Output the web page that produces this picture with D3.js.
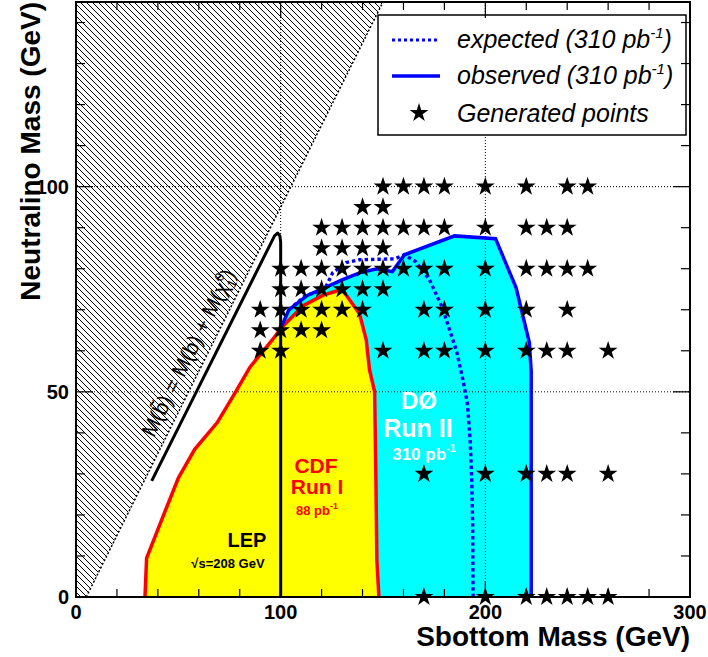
<!DOCTYPE html>
<html lang="en">
<head>
  <meta charset="UTF-8">
  <title>Sbottom exclusion</title>
  <script src="https://cdn.jsdelivr.net/npm/d3@7"></script>
  <style>
    body { margin: 0; background: #fff; }
    text { font-family: "Liberation Sans", Arial, sans-serif; }
  </style>
</head>
<body>
  <svg width="708" height="657"></svg>
  <script>
    // limit contours (sbottom mass, neutralino mass)
    var cdfRun1 = [[33.7,0],[34.5,9.5],[42,19],[50,29],[58,36],[69,42.5],[78,50],[85,56],[96,62.7],
      [100.3,65.6],[111,71],[120.5,73.5],[130,75],[138.5,69],[141.8,62.7],[143.4,55.4],[145.9,50],
      [146.5,30],[147,9],[148,0]];
    var observed = [[100.5,66],[104,70],[113,73.5],[122.5,75.6],[130,77.3],[138.5,79],[147,80],
      [154.6,79.3],[160.5,83.4],[185,88],[205,87.3],[215,75.4],[221.5,62],[222.4,55],[222.4,0]];
    var expected = [[104,70],[112,73.4],[121.5,75],[125.4,79],[132,81.5],[138.5,82.2],[155.6,82.4],
      [160.5,83.4],[166,81.7],[172.7,77.3],[179,70.5],[186,59.8],[189,53],[191.2,47.3],[192.6,38],
      [193.4,28],[193.8,18],[194,0]];
    var lepLimit = [[37,28.3],[97,88],[98.5,88.7],[99.6,88],[100,86.5],[100,0]];
    var kinematic = [[5,0],[150,145]];

    var generatedPoints = [
      [150,100],[160,100],[170,100],[180,100],[200,100],[220,100],[240,100],[250,100],
      [140,95],[150,95],
      [120,90],[130,90],[140,90],[150,90],[160,90],[170,90],[180,90],[200,90],[220,90],[230,90],[240,90],
      [120,85],[130,85],[140,85],[150,85],
      [100,80],[110,80],[120,80],[130,80],[140,80],[150,80],[160,80],[170,80],[180,80],[200,80],[220,80],[230,80],[240,80],[250,80],
      [100,75],[110,75],[120,75],[130,75],[140,75],[150,75],
      [90,70],[100,70],[110,70],[120,70],[130,70],[140,70],[170,70],[180,70],[200,70],[220,70],[240,70],
      [90,65],[100,65],[110,65],[120,65],
      [90,60],[100,60],[150,60],[170,60],[180,60],[200,60],[220,60],[230,60],[240,60],[260,60],
      [170,30],[200,30],[220,30],[230,30],[240,30],[260,30],
      [170,0],[200,0],[220,0],[230,0],[240,0],[250,0],[260,0]
    ];

    var xTicks = [0, 100, 200, 300];
    var yTicks = [0, 50, 100];

    var svg = d3.select('svg');
    var x = d3.scaleLinear().domain([0, 300]).range([76, 690]);
    var y = d3.scaleLinear().domain([0, 145]).range([597, 2]);
    var line = d3.line().x(function(d) { return x(d[0]); }).y(function(d) { return y(d[1]); });

    var defs = svg.append('defs');
    var pat = defs.append('pattern')
      .attr('id', 'hatch')
      .attr('patternUnits', 'userSpaceOnUse')
      .attr('width', 6).attr('height', 6);
    pat.append('path')
      .attr('d', 'M0,0L6,6M-1,5L1,7M5,-1L7,1')
      .attr('stroke', '#000').attr('stroke-width', 1);

    // forbidden region
    svg.append('path')
      .attr('d', line([[0,0],[5,0],[150,145],[0,145]]) + 'Z')
      .attr('fill', 'url(#hatch)');
    svg.append('path')
      .attr('d', line(kinematic))
      .attr('fill', 'none').attr('stroke', '#000')
      .attr('stroke-width', 1.5).attr('stroke-dasharray', '2,2');

    // D0 and CDF areas
    svg.append('path')
      .attr('d', line([[100,0]].concat(observed)) + 'Z')
      .attr('fill', '#00ffff');
    svg.append('path')
      .attr('d', line(cdfRun1) + 'Z')
      .attr('fill', '#ffff00');

    // grid
    var grid = svg.append('g').attr('stroke', '#000').attr('stroke-width', 1)
      .attr('stroke-dasharray', '1,2');
    [100, 200].forEach(function(v) {
      grid.append('line').attr('x1', x(v)).attr('x2', x(v)).attr('y1', y(0)).attr('y2', y(145));
    });
    [50, 100].forEach(function(v) {
      grid.append('line').attr('x1', x(0)).attr('x2', x(300)).attr('y1', y(v)).attr('y2', y(v));
    });

    svg.append('path').attr('d', line(cdfRun1))
      .attr('fill', 'none').attr('stroke', '#ff0000').attr('stroke-width', 3.5);
    svg.append('path').attr('d', line(observed))
      .attr('fill', 'none').attr('stroke', '#0000ff').attr('stroke-width', 3.5);
    svg.append('path').attr('d', line(expected))
      .attr('fill', 'none').attr('stroke', '#0000ff').attr('stroke-width', 3.4)
      .attr('stroke-dasharray', '3.4,3');
    svg.append('path').attr('d', line(lepLimit))
      .attr('fill', 'none').attr('stroke', '#000').attr('stroke-width', 3)
      .attr('stroke-linejoin', 'round');

    // generated points
    var star = d3.symbol().type(d3.symbolStar).size(110);
    svg.append('g').selectAll('path').data(generatedPoints).join('path')
      .attr('d', star)
      .attr('transform', function(d) { return 'translate(' + x(d[0]) + ',' + y(d[1]) + ')'; })
      .attr('fill', '#000');

    // labels in the plot
    function label(tx, ty, size, color, parts) {
      var t = svg.append('text').attr('x', tx).attr('y', ty)
        .attr('text-anchor', 'middle').attr('font-size', size)
        .attr('font-weight', 'bold').attr('fill', color);
      parts.forEach(function(p) {
        var s = t.append('tspan').text(p[0]);
        if (p[1]) s.attr('dy', p[1]).attr('font-size', p[2]);
      });
      return t;
    }
    label(419, 409, 24, '#fff', [['DØ']]);
    label(418, 437, 25, '#fff', [['Run II']]);
    label(424, 460, 17, '#fff', [['310 pb'], ['-1', -8, 11], ['', 8, 17]]);
    label(316, 473, 21, '#ff0000', [['CDF']]);
    label(317, 494, 21, '#ff0000', [['Run I']]);
    label(317, 515, 13, '#ff0000', [['88 pb'], ['-1', -6, 9], ['', 6, 13]]);
    label(247, 547, 20, '#000', [['LEP']]);
    label(228, 568, 13, '#000', [['√s=208 GeV']]);

    var diag = svg.append('text')
      .attr('transform', 'translate(195,356) rotate(-63.4)')
      .attr('text-anchor', 'middle').attr('font-size', 21).attr('fill', '#000');
    diag.append('tspan').text('M(b\u0303) = M(b) + M(\u03c7\u0303');
    diag.append('tspan').text('1').attr('dy', 5).attr('font-size', 13);
    diag.append('tspan').text('0').attr('dy', -14).attr('dx', -7).attr('font-size', 13);
    diag.append('tspan').text(')').attr('dy', 9);

    // legend
    var lg = svg.append('g');
    lg.append('rect').attr('x', 378).attr('y', 15).attr('width', 308).attr('height', 120)
      .attr('fill', '#fff').attr('stroke', '#000').attr('stroke-width', 1.5);
    lg.append('line').attr('x1', 392).attr('x2', 440).attr('y1', 40).attr('y2', 40)
      .attr('stroke', '#0000ff').attr('stroke-width', 3).attr('stroke-dasharray', '3,3');
    lg.append('line').attr('x1', 392).attr('x2', 440).attr('y1', 76).attr('y2', 76)
      .attr('stroke', '#0000ff').attr('stroke-width', 3.5);
    lg.append('path').attr('d', star).attr('transform', 'translate(419,113)');
    var legendText = [['expected (310 pb', 48], ['observed (310 pb', 84]];
    legendText.forEach(function(l) {
      var t = lg.append('text').attr('x', 457).attr('y', l[1])
        .attr('font-size', 25).attr('font-style', 'italic');
      t.append('tspan').text(l[0]);
      t.append('tspan').text('-1').attr('dy', -10).attr('font-size', 15);
      t.append('tspan').text(')').attr('dy', 10);
    });
    lg.append('text').attr('x', 457).attr('y', 122).attr('font-size', 25)
      .attr('font-style', 'italic').text('Generated points');

    // frame and ticks
    svg.append('rect').attr('x', x(0)).attr('y', y(145))
      .attr('width', x(300) - x(0)).attr('height', y(0) - y(145))
      .attr('fill', 'none').attr('stroke', '#000').attr('stroke-width', 2);
    var ticks = svg.append('g').attr('stroke', '#000').attr('stroke-width', 1.2);
    d3.range(20, 300, 20).forEach(function(v) {
      var len = v % 100 === 0 ? 16 : 8;
      ticks.append('line').attr('x1', x(v)).attr('x2', x(v)).attr('y1', y(0)).attr('y2', y(0) - len);
      ticks.append('line').attr('x1', x(v)).attr('x2', x(v)).attr('y1', y(145)).attr('y2', y(145) + len);
    });
    d3.range(10, 145, 10).forEach(function(v) {
      var len = v % 50 === 0 ? 17 : 9;
      ticks.append('line').attr('x1', x(0)).attr('x2', x(0) + len).attr('y1', y(v)).attr('y2', y(v));
      ticks.append('line').attr('x1', x(300)).attr('x2', x(300) - len).attr('y1', y(v)).attr('y2', y(v));
    });

    svg.append('g').selectAll('text').data(xTicks).join('text')
      .attr('x', function(d) { return x(d); }).attr('y', 619)
      .attr('text-anchor', 'middle').attr('font-size', 20).attr('font-weight', 'bold')
      .text(function(d) { return d; });
    svg.append('g').selectAll('text').data(yTicks).join('text')
      .attr('x', 69).attr('y', function(d) { return y(d) + 7; })
      .attr('text-anchor', 'end').attr('font-size', 20).attr('font-weight', 'bold')
      .text(function(d) { return d; });

    svg.append('text').attr('x', 690).attr('y', 646).attr('text-anchor', 'end')
      .attr('font-size', 28).attr('font-weight', 'bold').text('Sbottom Mass (GeV)');
    svg.append('text').attr('transform', 'translate(40,2) rotate(-90)').attr('text-anchor', 'end')
      .attr('font-size', 28).attr('font-weight', 'bold').text('Neutralino Mass (GeV)');
  </script>
</body>
</html>
